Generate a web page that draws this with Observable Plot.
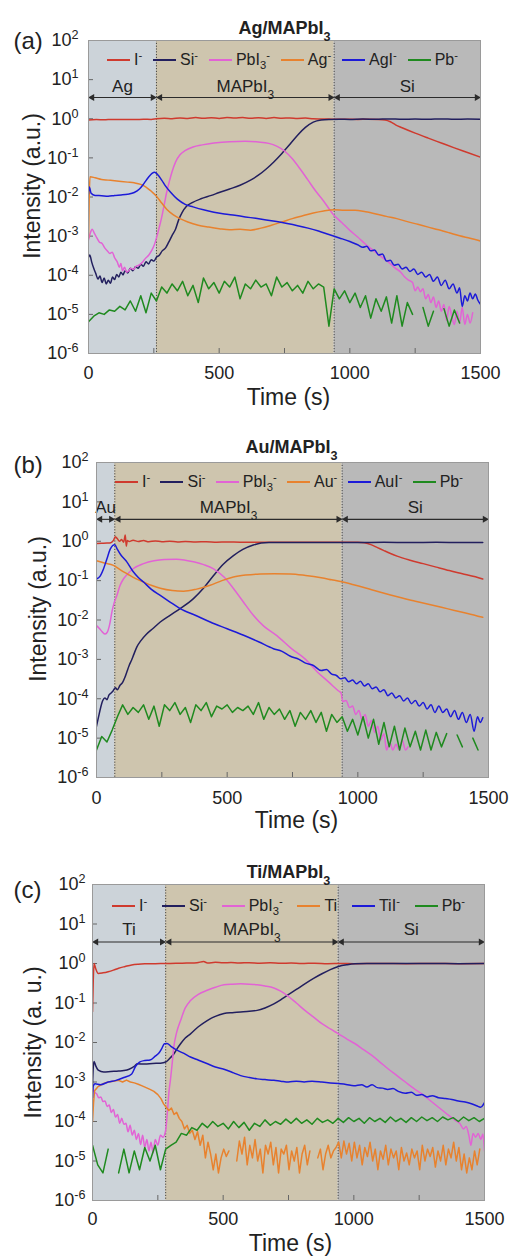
<!DOCTYPE html>
<html><head><meta charset="utf-8">
<script src="https://cdn.jsdelivr.net/npm/d3@7"></script>
<script src="https://cdn.jsdelivr.net/npm/@observablehq/plot@0.6"></script>
<style>
body{margin:0;background:#fff;font-family:"Liberation Sans",Arial,sans-serif;}
#wrap{position:relative;width:511px;height:1256px;overflow:hidden;}
.panel{position:absolute;left:0;width:511px;}
.legend{position:absolute;display:flex;justify-content:space-between;align-items:center;font-size:16px;line-height:1;color:#222;height:20px;}
.legend .item{display:flex;align-items:center;white-space:nowrap;}
.legend .sw{display:inline-block;width:23px;height:0;border-top:2px solid;margin-right:4px;}
.legend sup,.legend sub{font-size:70%;line-height:0;}
</style></head><body><div id="wrap"></div>
<script>
// ---------- shared ----------
const seriesColors = ["#cf3a2e","#221f5e","#e263d5","#e8822e","#1c1ad8","#1f8a1f"];
const regionFills = ["#ccd3d9","#cec5ae","#b9b9b9"];
const yTicks = [1e-6,1e-5,1e-4,1e-3,1e-2,1e-1,1,10,100];
const xTicks = [0,500,1000,1500];
const xMinor = [250,500,750,1000,1250];
const pbStep = 20;

// ---------- (a) Ag/MAPbI3 ----------
const agBounds = [0,260,940,1500];
const agRegions = ["Ag","MAPbI_{3}","Si"];
const agLabels = ["I^{-}","Si^{-}","PbI_{3}^{-}","Ag^{-}","AgI^{-}","Pb^{-}"];
const agI = [[0,0.93],[30,0.95],[60,0.94],[90,0.96],[120,0.95],[150,0.96],[180,0.95],[210,0.97],[240,0.96],[260,1.0],[290,1.03],[320,1.0],[350,1.05],[380,1.02],[410,1.07],[440,1.03],[470,1.06],[500,1.02],[530,1.08],[560,1.04],[590,1.07],[620,1.03],[650,1.06],[680,1.02],[710,1.07],[740,1.03],[770,1.05],[800,1.02],[830,1.04],[860,1.0],[890,0.99],[920,0.98],[950,0.97],[990,0.97],[1030,0.96],[1070,0.97],[1110,0.96],[1135,0.93],[1155,0.84],[1175,0.7],[1200,0.59],[1250,0.43],[1300,0.32],[1350,0.24],[1400,0.18],[1450,0.137],[1500,0.104]];
const agSi = [[0,2.9e-4],[5,3.3e-4],[12,2.2e-4],[20,1.5e-4],[28,1.1e-4],[36,8e-5],[44,9.5e-5],[52,6.5e-5],[60,8.5e-5],[68,6e-5],[76,7.5e-5],[84,6.2e-5],[92,9e-5],[100,7.8e-5],[108,1.05e-4],[116,9e-5],[124,1.2e-4],[132,1.02e-4],[140,1.3e-4],[150,1.15e-4],[160,1.5e-4],[170,1.3e-4],[180,1.65e-4],[190,1.5e-4],[200,1.9e-4],[210,1.7e-4],[220,2.2e-4],[230,1.95e-4],[240,2.5e-4],[250,2.3e-4],[260,2.9e-4],[270,3.2e-4],[282,4.2e-4],[295,5e-4],[307,7e-4],[320,1.05e-3],[333,1.5e-3],[345,2.6e-3],[358,4e-3],[375,5.8e-3],[397,7.2e-3],[430,9e-3],[470,0.011],[500,0.013],[540,0.016],[580,0.02],[620,0.027],[650,0.036],[680,0.052],[710,0.08],[740,0.13],[770,0.22],[800,0.38],[830,0.6],[860,0.82],[890,0.93],[920,0.96],[960,0.97],[1000,0.96],[1050,0.98],[1100,0.97],[1150,0.99],[1200,0.97],[1250,0.98],[1300,0.97],[1350,0.99],[1400,0.97],[1450,0.98],[1500,0.97]];
const agPbI3 = [[0,8e-4],[7,1.2e-3],[14,1.5e-3],[22,1.2e-3],[32,9e-4],[42,7e-4],[52,6.5e-4],[62,5e-4],[72,4.2e-4],[82,3.6e-4],[91,3.9e-4],[100,2.8e-4],[110,2.2e-4],[118,1.6e-4],[124,2e-4],[130,1.3e-4],[138,1.6e-4],[146,1.2e-4],[154,1.3e-4],[162,1.5e-4],[172,1.4e-4],[182,1.7e-4],[192,1.8e-4],[205,2.1e-4],[218,2.7e-4],[231,3.3e-4],[242,4.3e-4],[252,6e-4],[262,1e-3],[270,1.6e-3],[280,3e-3],[290,6.5e-3],[300,0.014],[310,0.026],[320,0.045],[333,0.078],[350,0.12],[371,0.155],[400,0.19],[435,0.215],[480,0.24],[540,0.26],[600,0.265],[650,0.255],[690,0.235],[720,0.2],[750,0.15],[780,0.095],[810,0.052],[840,0.027],[870,0.014],[900,7.8e-3],[935,3.7e-3],[970,2.2e-3],[1000,1.4e-3],[1030,9.5e-4],[1060,6.2e-4],[1090,4.3e-4],[1120,3e-4],[1150,2.1e-4],[1175,1.5e-4],[1195,1.2e-4],[1210,9e-5],[1225,7.5e-5],[1240,6.5e-5],[1250,4e-5],[1260,5e-5],[1270,3.8e-5],[1280,4.5e-5],[1290,2.5e-5],[1300,3.2e-5],[1310,2e-5],[1320,2.8e-5],[1330,1.5e-5],[1340,2.2e-5],[1350,1.2e-5],[1360,1.8e-5],[1370,7e-6],[1380,1.6e-5],[1390,9e-6],[1400,5.5e-6],[1410,1.2e-5],[1420,6e-6],[1430,1.5e-5],[1440,5.5e-6],[1450,1e-5],[1460,6e-6],[1470,1.1e-5]];
const agAg = [[0,9e-4],[3,0.012],[6,0.033],[25,0.031],[50,0.028],[75,0.027],[100,0.026],[125,0.025],[150,0.024],[175,0.023],[200,0.021],[220,0.018],[240,0.014],[260,0.0105],[280,7e-3],[300,4.8e-3],[325,3.5e-3],[350,2.8e-3],[380,2.3e-3],[420,1.9e-3],[460,1.7e-3],[500,1.55e-3],[540,1.45e-3],[580,1.5e-3],[620,1.42e-3],[660,1.6e-3],[700,1.9e-3],[740,2.3e-3],[780,2.8e-3],[820,3.3e-3],[860,3.9e-3],[900,4.4e-3],[940,4.7e-3],[980,4.6e-3],[1020,4.6e-3],[1060,4.2e-3],[1100,3.7e-3],[1140,3.2e-3],[1180,2.8e-3],[1220,2.35e-3],[1260,2e-3],[1300,1.7e-3],[1340,1.45e-3],[1380,1.22e-3],[1420,1.02e-3],[1460,8.8e-4],[1500,7.5e-4]];
const agAgI = [[0,0.012],[3,0.018],[10,0.0125],[25,0.011],[50,0.0108],[75,0.0105],[100,0.011],[125,0.0113],[150,0.0118],[175,0.013],[195,0.016],[212,0.022],[228,0.031],[243,0.04],[253,0.043],[265,0.037],[280,0.027],[295,0.019],[315,0.013],[340,8.8e-3],[370,6.5e-3],[400,5.6e-3],[440,4.7e-3],[480,4.1e-3],[520,3.7e-3],[560,3.4e-3],[600,3.1e-3],[640,2.85e-3],[680,2.6e-3],[720,2.35e-3],[760,2.1e-3],[800,1.85e-3],[840,1.6e-3],[880,1.35e-3],[920,1.1e-3],[960,9e-4],[1000,7.3e-4],[1030,6e-4],[1050,5.2e-4],[1065,5.5e-4],[1080,4.2e-4],[1095,4.4e-4],[1110,3.3e-4],[1125,3.5e-4],[1140,2.3e-4],[1155,2.4e-4],[1170,1.8e-4],[1185,1.9e-4],[1200,1.45e-4],[1215,1.6e-4],[1230,1.25e-4],[1245,1.45e-4],[1260,1.05e-4],[1275,1.2e-4],[1290,9e-5],[1305,1.05e-4],[1320,7e-5],[1335,9e-5],[1350,5.5e-5],[1365,7.5e-5],[1380,4.5e-5],[1395,6e-5],[1410,3.5e-5],[1420,4.8e-5],[1430,1.6e-5],[1440,3e-5],[1450,2.2e-5],[1460,3.5e-5],[1470,2.5e-5],[1480,3.3e-5],[1490,2.3e-5],[1500,1.8e-5]];
const agPb = [6.5e-6,9e-6,1.1e-5,1.0e-5,1.3e-5,1.2e-5,1.6e-5,1.3e-5,2.2e-5,1.2e-5,
 3e-5,1.1e-5,3.5e-5,2.2e-5,5e-5,3.5e-5,6e-5,4e-5,7e-5,3e-5,
 5.5e-5,2e-5,8.5e-5,4.5e-5,6.5e-5,3.5e-5,7e-5,5e-5,9e-5,2.5e-5,
 6e-5,4.5e-5,7.5e-5,5e-5,6e-5,3e-5,9e-5,5e-5,6.5e-5,4e-5,
 5.5e-5,3.5e-5,7e-5,4.5e-5,6e-5,5e-5,5e-6,4.5e-5,2.5e-5,4e-5,
 2e-5,3.5e-5,1.5e-5,3e-5,8e-6,2.5e-5,1.2e-5,2.8e-5,6e-6,3e-5,
 5e-6,2e-5,1e-5,null,1.5e-5,5e-6,1.2e-5,null,1.4e-5,5e-6,
 1.3e-5,6e-6,null,null,null,null];

// ---------- (b) Au/MAPbI3 ----------
const auBounds = [0,70,940,1500];
const auRegions = ["Au","MAPbI_{3}","Si"];
const auLabels = ["I^{-}","Si^{-}","PbI_{3}^{-}","Au^{-}","AuI^{-}","Pb^{-}"];
const auI = [[0,0.88],[20,0.89],[40,0.9],[55,0.92],[65,1.05],[72,1.3],[80,1.15],[88,1.0],[96,1.1],[104,0.95],[110,1.45],[114,0.75],[118,1.05],[125,0.98],[140,1.06],[160,0.98],[180,1.04],[200,0.97],[225,1.02],[250,0.97],[280,1.0],[310,0.96],[340,0.99],[380,0.96],[420,0.97],[460,0.95],[500,0.96],[550,0.95],[600,0.95],[650,0.94],[700,0.94],[800,0.94],[900,0.94],[1000,0.94],[1025,0.91],[1050,0.82],[1075,0.69],[1100,0.58],[1125,0.49],[1150,0.42],[1200,0.33],[1250,0.27],[1300,0.22],[1350,0.18],[1400,0.15],[1450,0.125],[1478,0.11]];
const auSi = [[0,2e-5],[8,3.5e-5],[16,6e-5],[24,9e-5],[32,1.05e-4],[40,9.5e-5],[48,1.25e-4],[56,1.4e-4],[64,1.6e-4],[72,1.9e-4],[80,1.7e-4],[90,2.2e-4],[100,2.6e-4],[108,3.4e-4],[116,4.8e-4],[125,7e-4],[134,9.5e-4],[142,1.3e-3],[155,2.1e-3],[170,3e-3],[190,4.3e-3],[215,6e-3],[244,8.9e-3],[280,0.013],[320,0.0195],[371,0.035],[410,0.065],[448,0.135],[485,0.26],[524,0.43],[560,0.62],[600,0.8],[630,0.9],[660,0.93],[700,0.93],[800,0.93],[900,0.935],[1000,0.93],[1100,0.94],[1200,0.93],[1300,0.94],[1400,0.93],[1478,0.93]];
const auPbI3 = [[0,7.2e-3],[12,6e-3],[22,5e-3],[33,4.4e-3],[42,5e-3],[50,7.5e-3],[59,0.016],[68,0.028],[78,0.042],[90,0.075],[103,0.11],[116,0.14],[140,0.2],[180,0.27],[220,0.32],[260,0.345],[307,0.35],[340,0.33],[371,0.3],[410,0.255],[448,0.2],[490,0.12],[524,0.063],[560,0.03],[601,0.013],[640,7e-3],[690,4e-3],[745,1.9e-3],[800,1e-3],[845,4.8e-4],[890,2.6e-4],[925,1.6e-4],[936,1.4e-4],[942,8.5e-5],[955,9e-5],[968,6e-5],[980,6.5e-5],[992,4e-5],[1004,5e-5],[1016,3e-5],[1028,4e-5],[1040,2e-5],[1052,2.8e-5],[1064,1.4e-5],[1076,2e-5],[1088,9e-6],[1100,1.3e-5],[1110,5e-6],[1122,8e-6],[1134,5e-6],[1146,7e-6],[1158,5e-6],[1170,9e-6],[1182,5e-6],[1192,6e-6]];
const auAu = [[0,0.32],[30,0.28],[65,0.245],[90,0.19],[120,0.145],[150,0.112],[180,0.092],[212,0.075],[244,0.064],[290,0.056],[333,0.054],[380,0.06],[435,0.076],[480,0.1],[524,0.123],[570,0.138],[627,0.148],[680,0.15],[742,0.148],[800,0.135],[860,0.118],[900,0.105],[934,0.095],[980,0.08],[1030,0.065],[1080,0.052],[1125,0.043],[1170,0.036],[1220,0.03],[1270,0.025],[1320,0.021],[1370,0.0175],[1420,0.0147],[1478,0.0117]];
const auAuI = [[0,0.11],[14,0.13],[27,0.2],[40,0.36],[52,0.62],[62,0.78],[70,0.82],[80,0.62],[92,0.46],[104,0.37],[116,0.3],[140,0.17],[160,0.12],[180,0.092],[210,0.06],[244,0.042],[280,0.029],[320,0.0195],[380,0.013],[435,8.9e-3],[500,6e-3],[563,4.1e-3],[620,2.8e-3],[677,1.87e-3],[710,1.6e-3],[742,1.2e-3],[775,1e-3],[800,8e-4],[830,7e-4],[860,5.2e-4],[880,5.5e-4],[900,4.2e-4],[918,3.9e-4],[934,3.2e-4],[950,3.4e-4],[965,2.7e-4],[980,3e-4],[995,2.4e-4],[1010,2.8e-4],[1025,2.1e-4],[1040,2.4e-4],[1055,1.8e-4],[1070,2e-4],[1085,1.5e-4],[1100,1.7e-4],[1115,1.2e-4],[1130,1.4e-4],[1145,1.05e-4],[1160,1.2e-4],[1175,8.8e-5],[1190,1.05e-4],[1205,7.5e-5],[1220,9e-5],[1235,6.5e-5],[1250,8e-5],[1265,5.5e-5],[1280,7e-5],[1295,4.5e-5],[1310,6.5e-5],[1325,4.5e-5],[1340,5.5e-5],[1355,3.5e-5],[1370,5e-5],[1385,3e-5],[1400,4.5e-5],[1415,2.5e-5],[1430,4e-5],[1445,1.5e-5],[1458,3.5e-5],[1468,2.5e-5],[1478,3.3e-5]];
const auPb = [5e-6,1.1e-5,8e-6,1.6e-5,3.5e-5,7e-5,4e-5,6e-5,4.5e-5,7e-5,
 3e-5,6.5e-5,2e-5,7e-5,5e-5,8e-5,4e-5,6e-5,2.5e-5,7e-5,
 5e-5,8e-5,3.5e-5,6.5e-5,5.5e-5,7e-5,4.5e-5,6e-5,5e-5,6.5e-5,
 4e-5,8e-5,3e-5,6e-5,4e-5,5.5e-5,3e-5,5e-5,2e-5,4.5e-5,
 3e-5,5e-5,2.5e-5,4.5e-5,1.5e-5,4e-5,2.5e-5,3.5e-5,1.5e-5,3e-5,
 1.2e-5,3.5e-5,1e-5,3e-5,7e-6,2.5e-5,6e-6,2e-5,5e-6,1.8e-5,
 6e-6,1.5e-5,5e-6,1.6e-5,5e-6,1.4e-5,6e-6,1.3e-5,null,1.2e-5,
 6e-6,null,1e-5,5e-6,null,null];

// ---------- (c) Ti/MAPbI3 ----------
const tiBounds = [0,280,940,1500];
const tiRegions = ["Ti","MAPbI_{3}","Si"];
const tiLabels = ["I^{-}","Si^{-}","PbI_{3}^{-}","Ti","TiI^{-}","Pb^{-}"];
const tiI = [[0,0.06],[3,0.4],[6,1.0],[12,0.75],[22,0.56],[40,0.58],[60,0.62],[80,0.68],[100,0.76],[125,0.84],[150,0.92],[175,0.96],[200,0.98],[240,0.99],[280,1.0],[320,1.01],[360,1.03],[400,1.05],[425,1.12],[440,1.03],[470,1.07],[500,1.04],[530,1.06],[560,1.03],[600,1.05],[640,1.02],[680,1.04],[720,1.01],[760,1.03],[800,1.0],[850,1.02],[900,0.99],[950,1.0],[1000,0.99],[1100,1.0],[1200,0.99],[1300,1.0],[1400,0.99],[1500,1.0]];
const tiSi = [[0,8e-4],[3,2.4e-3],[6,3.3e-3],[12,2.6e-3],[22,2e-3],[43,1.8e-3],[70,1.85e-3],[100,1.9e-3],[120,1.95e-3],[140,2.1e-3],[160,2.5e-3],[171,2.9e-3],[200,2.85e-3],[230,2.95e-3],[260,3e-3],[280,3.2e-3],[296,4e-3],[311,5.1e-3],[324,7e-3],[337,9.3e-3],[355,0.013],[375,0.0166],[405,0.025],[439,0.036],[470,0.046],[503,0.054],[535,0.057],[567,0.059],[600,0.062],[630,0.065],[660,0.075],[694,0.095],[720,0.12],[745,0.155],[780,0.22],[814,0.31],[846,0.42],[878,0.55],[910,0.7],[941,0.84],[975,0.93],[1005,0.98],[1050,1.0],[1100,1.0],[1200,1.0],[1300,1.0],[1400,0.99],[1500,1.0]];
const tiPbI3 = [[0,7e-4],[8,5.5e-4],[16,5e-4],[24,4e-4],[32,4.2e-4],[40,3.2e-4],[48,3.3e-4],[56,2.4e-4],[64,2.6e-4],[72,1.7e-4],[80,2e-4],[88,1.3e-4],[96,1.5e-4],[104,9e-5],[112,1.2e-4],[120,8.5e-5],[128,9e-5],[136,5.5e-5],[144,8e-5],[152,4.5e-5],[160,6e-5],[168,3.5e-5],[176,5e-5],[184,2.6e-5],[192,4.5e-5],[200,2.2e-5],[208,3.5e-5],[216,1.8e-5],[224,3e-5],[232,1.6e-5],[240,3.5e-5],[250,2.5e-5],[260,4.5e-5],[270,4e-5],[280,6e-5],[287,1.9e-4],[293,6e-4],[298,1.1e-3],[305,3e-3],[311,7.6e-3],[322,0.018],[337,0.036],[355,0.075],[375,0.115],[405,0.165],[439,0.21],[470,0.25],[503,0.29],[535,0.3],[567,0.305],[600,0.3],[630,0.29],[660,0.27],[694,0.24],[720,0.2],[745,0.155],[780,0.1],[814,0.064],[846,0.044],[878,0.03],[910,0.022],[941,0.0166],[975,0.012],[1005,9.3e-3],[1037,6.6e-3],[1069,4.7e-3],[1100,3.2e-3],[1133,2.1e-3],[1165,1.45e-3],[1197,1e-3],[1228,7e-4],[1260,5e-4],[1292,3.4e-4],[1324,2.3e-4],[1356,1.55e-4],[1388,1.07e-4],[1405,9e-5],[1420,6.5e-5],[1430,7.5e-5],[1440,4.5e-5],[1448,2.5e-5],[1456,5e-5],[1466,4e-5],[1476,5e-5],[1486,3.5e-5],[1494,4.8e-5],[1500,1.8e-5]];
const tiTi = [[0,1e-4],[4,3e-4],[8,6e-4],[20,7.5e-4],[40,9e-4],[60,1e-3],[80,1.05e-3],[100,1.1e-3],[115,1.0e-3],[130,1.12e-3],[145,1.0e-3],[160,9.5e-4],[175,8.8e-4],[190,8e-4],[205,7.2e-4],[220,6.5e-4],[235,5.8e-4],[250,4.8e-4],[262,3.8e-4],[272,2.8e-4],[282,2.3e-4],[292,1.9e-4],[302,2.2e-4],[312,1.5e-4],[322,1.7e-4],[332,1.2e-4],[342,1e-4],[352,6.5e-5],[362,8e-5],[372,5e-5],[382,6e-5],[392,3.5e-5],[402,5.5e-5],[412,2.5e-5],[422,4.5e-5],[432,1.2e-5],[442,3e-5],[452,1.5e-5],[462,6e-6],[472,1.5e-5],[482,5e-6],[492,1.2e-5],[502,2e-5],[512,1.3e-5],[522,1.8e-5],[532,null],[552,1e-5],[562,3.2e-5],[572,1.5e-5],[582,4e-5],[592,8e-6],[602,2.5e-5],[612,1.2e-5],[622,3.5e-5],[632,1e-5],[642,2e-5],[652,5e-6],[662,2.5e-5],[672,1.5e-5],[682,3e-5],[692,8e-6],[702,2.2e-5],[712,5e-6],[722,2e-5],[732,1.5e-5],[742,2.5e-5],[752,6e-6],[762,1.8e-5],[772,1e-5],[782,2.2e-5],[792,5e-6],[802,1.5e-5],[812,2.5e-5],[822,8e-6],[832,1.8e-5],[842,null],[862,1.2e-5],[872,2e-5],[882,6e-6],[892,1.5e-5],[902,2.5e-5],[912,1.2e-5],[922,1.8e-5],[932,2.2e-5],[942,3e-5],[952,1.2e-5],[962,3.2e-5],[972,1.5e-5],[982,2.8e-5],[992,1e-5],[1002,3e-5],[1012,1.2e-5],[1022,2.5e-5],[1032,8e-6],[1042,2.2e-5],[1052,1.3e-5],[1062,3e-5],[1072,1e-5],[1082,2e-5],[1092,6e-6],[1102,1.8e-5],[1112,1.1e-5],[1122,2.5e-5],[1132,8e-6],[1142,2e-5],[1152,1.2e-5],[1162,1.8e-5],[1172,6e-6],[1182,2.2e-5],[1192,1e-5],[1202,1.6e-5],[1212,8e-6],[1222,2e-5],[1232,1.2e-5],[1242,1.8e-5],[1252,6e-6],[1262,2.5e-5],[1272,1e-5],[1282,2e-5],[1292,1.3e-5],[1302,2.2e-5],[1312,7e-6],[1322,1.8e-5],[1332,1e-5],[1342,2.5e-5],[1352,8e-6],[1362,2e-5],[1372,1.2e-5],[1382,3e-5],[1392,1e-5],[1402,2.2e-5],[1412,6e-6],[1422,1.5e-5],[1432,5e-6],[1442,1.2e-5],[1452,6e-6],[1462,1.8e-5],[1472,8e-6],[1482,2e-5]];
const tiTiI = [[0,4e-4],[3,8e-4],[10,9e-4],[30,8.5e-4],[60,1e-3],[90,1.1e-3],[120,1.3e-3],[150,1.6e-3],[165,2.5e-3],[180,3.2e-3],[200,3.5e-3],[220,3.6e-3],[240,4.5e-3],[255,5.5e-3],[265,7e-3],[275,9.3e-3],[285,9.5e-3],[300,8e-3],[325,6.3e-3],[350,5.3e-3],[375,4.3e-3],[400,3.7e-3],[440,2.9e-3],[470,2.4e-3],[503,2.1e-3],[540,1.7e-3],[567,1.45e-3],[600,1.3e-3],[630,1.2e-3],[660,1.15e-3],[694,1.1e-3],[720,1.05e-3],[750,1.0e-3],[780,1.05e-3],[810,1.0e-3],[840,1.05e-3],[878,1.0e-3],[910,9.5e-4],[941,9.1e-4],[970,8.7e-4],[1000,8e-4],[1030,8.5e-4],[1050,7.5e-4],[1070,8.5e-4],[1090,7.2e-4],[1110,7e-4],[1130,6.5e-4],[1150,6.8e-4],[1170,5.8e-4],[1197,5.2e-4],[1220,5.5e-4],[1240,4.6e-4],[1260,4.8e-4],[1280,4.2e-4],[1300,4.5e-4],[1324,4e-4],[1350,3.8e-4],[1375,3.6e-4],[1400,3.3e-4],[1426,3.1e-4],[1450,2.8e-4],[1470,2.5e-4],[1485,2.3e-4],[1500,3e-4]];
const tiPb = [2.5e-5,8e-6,5e-6,2e-5,null,5e-6,2e-5,5e-6,1.8e-5,6e-6,
 2.2e-5,1e-5,2.5e-5,6e-6,2e-5,2.5e-5,3e-5,5e-5,4.5e-5,7e-5,
 6e-5,9e-5,7e-5,1e-4,7.5e-5,9e-5,6.5e-5,1e-4,7e-5,9.5e-5,
 6e-5,9e-5,7.5e-5,1.1e-4,8e-5,1e-4,8.5e-5,1.15e-4,9e-5,1.2e-4,
 9e-5,1.1e-4,8.5e-5,1.2e-4,9.5e-5,1.1e-4,9e-5,1.2e-4,9.5e-5,1.25e-4,
 1e-4,1.2e-4,9e-5,1.25e-4,1e-4,1.2e-4,9.5e-5,1.3e-4,1e-4,1.2e-4,
 9.5e-5,1.25e-4,1e-4,1.3e-4,1.05e-4,1.25e-4,1e-4,1.3e-4,1.1e-4,1.25e-4,
 1e-4,1.3e-4,1.05e-4,1.25e-4,1e-4,1.2e-4];

// ---------- helpers ----------
const grid = vals => vals.map((v, i) => [i * pbStep, v]);
// which series are noisy traces (drawn with straight segments)
const noisy = [false,false,false,false,false,true];
const noisyTi = [false,false,false,true,false,true];

function richSvg(svg){
  svg.querySelectorAll("text").forEach(t => {
    const targets = t.querySelectorAll("tspan").length ? [...t.querySelectorAll("tspan")] : [t];
    targets.forEach(el => {
      const s = el.textContent;
      if (!/[_^]\{/.test(s)) return;
      el.textContent = "";
      const re = /([_^])\{([^}]*)\}/g; let last = 0, m;
      const add = (txt, kind) => {
        const sp = document.createElementNS("http://www.w3.org/2000/svg","tspan");
        sp.textContent = txt;
        if (kind) { sp.setAttribute("font-size","70%"); sp.setAttribute("baseline-shift", kind === "^" ? "super" : "sub"); }
        el.appendChild(sp);
      };
      while ((m = re.exec(s))) {
        if (m.index > last) add(s.slice(last, m.index));
        add(m[2], m[1]);
        last = re.lastIndex;
      }
      if (last < s.length) add(s.slice(last));
    });
  });
}
const richHtml = s => s.replace(/_\{([^}]*)\}/g, "<sub>$1</sub>").replace(/\^\{([^}]*)\}/g, "<sup>$1</sup>");

const panels = [
  {top:0, height:418, margin:{top:40,right:31,bottom:65,left:88}, title:"Ag/MAPbI_{3}", tag:"(a)", ylabel:"Intensity (a.u.)",
   bounds:agBounds, regions:agRegions, labels:agLabels, series:[agI,agSi,agPbI3,agAg,agAgI,grid(agPb)], noisy:noisy,
   arrowY:3.5, regionLabelY:6.8, titleDy:-12, titleDx:0, tagDy:1, ylabX:32, ylabDy:-11, xlabDx:4, xlabDy:44, yPad:10, xPad:13,
   legend:{left:107,right:458,y:60}},
  {top:418, height:418, margin:{top:44,right:23,bottom:59,left:96}, title:"Au/MAPbI_{3}", tag:"(b)", ylabel:"Intensity (a.u.)",
   bounds:auBounds, regions:auRegions, labels:auLabels, series:[auI,auSi,auPbI3,auAu,auAuI,grid(auPb)], noisy:noisy,
   arrowY:3.6, regionLabelY:7.2, titleDy:-15, titleDx:-1, tagDy:3, ylabX:38, ylabDy:-11, xlabDx:4, xlabDy:43, yPad:8, xPad:14,
   legend:{left:115,right:463,y:482}},
  {top:837, height:419, margin:{top:47,right:27,bottom:56,left:92}, title:"Ti/MAPbI_{3}", tag:"(c)", ylabel:"Intensity (a. u.)",
   bounds:tiBounds, regions:tiRegions, labels:tiLabels, series:[tiI,tiSi,tiPbI3,tiTi,tiTiI,grid(tiPb)], noisy:noisyTi,
   arrowY:3.5, regionLabelY:7.1, titleDy:-12, titleDx:0, tagDy:6, ylabX:33, ylabDy:0, xlabDx:2, xlabDy:43, yPad:7, xPad:12,
   legend:{left:112,right:465,y:906}}
];

const wrap = document.getElementById("wrap");
panels.forEach(cfg => {
  const m = cfg.margin;
  const fw = 511 - m.left - m.right, fh = cfg.height - m.top - m.bottom;
  const regs = cfg.regions.map((name, i) => ({name, x1: cfg.bounds[i], x2: cfg.bounds[i+1], fill: regionFills[i]}));
  const lines = cfg.series.map((data, i) => Plot.line(data, {x: d => d[0], y: d => d[1], stroke: seriesColors[i], strokeWidth: 1.5, curve: cfg.noisy[i] ? "linear" : "monotone-x", clip: true}));
  const svg = Plot.plot({
    width: 511, height: cfg.height,
    marginTop: m.top, marginRight: m.right, marginBottom: m.bottom, marginLeft: m.left,
    style: {fontFamily: "'Liberation Sans', Arial, sans-serif", fontSize: "16px", color: "#222", background: "transparent", overflow: "visible"},
    x: {domain: [0, 1500]},
    y: {type: "log", domain: [1e-6, 1e2]},
    marks: [
      Plot.rect(regs, {x1: "x1", x2: "x2", y1: 1e-6, y2: 1e2, fill: "fill"}),
      Plot.ruleX(cfg.bounds.slice(1, -1), {x: d => d, stroke: "#444", strokeDasharray: "1.2,1.6", strokeWidth: 1}),
      Plot.tickY(yTicks, {y: d => d, insetRight: fw - 5, stroke: "#666"}),
      Plot.tickX(xMinor, {x: d => d, insetTop: fh - 5, stroke: "#666"}),
      Plot.link(regs, {x1: d => d.x1 + 6, x2: d => d.x2 - 6, y1: cfg.arrowY, y2: cfg.arrowY, stroke: "#2b2b2b", strokeWidth: 1.1}),
      Plot.dot(regs, {x: d => d.x1 + 14, y: cfg.arrowY, symbol: "triangle", r: 2.6, rotate: -90, fill: "#2b2b2b"}),
      Plot.dot(regs, {x: d => d.x2 - 14, y: cfg.arrowY, symbol: "triangle", r: 2.6, rotate: 90, fill: "#2b2b2b"}),
      Plot.text(regs, {x: d => (d.x1 + d.x2) / 2, y: cfg.regionLabelY, text: "name", fontSize: 17, fill: "#222", lineAnchor: "middle"}),
      ...lines,
      Plot.frame({stroke: "#9a9a9a"}),
      Plot.axisY({ticks: yTicks, tickFormat: d => "10^{" + Math.round(Math.log10(d)) + "}", tickSize: 0, tickPadding: cfg.yPad, fontSize: 18, label: null}),
      Plot.axisX({ticks: xTicks, tickFormat: d => String(d), tickSize: 0, tickPadding: cfg.xPad, fontSize: 18, label: null}),
      Plot.text([cfg.title], {text: d => d, frameAnchor: "top", dx: cfg.titleDx, dy: cfg.titleDy, fontSize: 18, fontWeight: "bold", lineAnchor: "middle"}),
      Plot.text([cfg.tag], {text: d => d, frameAnchor: "top-left", textAnchor: "start", dx: 13 - m.left, dy: cfg.tagDy, fontSize: 24, lineAnchor: "middle"}),
      Plot.text([cfg.ylabel], {text: d => d, frameAnchor: "left", textAnchor: "middle", rotate: -90, dx: cfg.ylabX - m.left, dy: cfg.ylabDy, fontSize: 23, lineAnchor: "middle"}),
      Plot.text(["Time (s)"], {text: d => d, frameAnchor: "bottom", dx: cfg.xlabDx, dy: cfg.xlabDy, fontSize: 23, lineAnchor: "middle"})
    ]
  });
  richSvg(svg);
  const div = document.createElement("div");
  div.className = "panel";
  div.style.top = cfg.top + "px";
  div.style.height = cfg.height + "px";
  div.appendChild(svg);
  const lg = document.createElement("div");
  lg.className = "legend";
  lg.style.left = cfg.legend.left + "px";
  lg.style.width = (cfg.legend.right - cfg.legend.left) + "px";
  lg.style.top = (cfg.legend.y - cfg.top - 10) + "px";
  lg.innerHTML = cfg.labels.map((l, i) => `<span class="item"><span class="sw" style="border-color:${seriesColors[i]}"></span><span>${richHtml(l)}</span></span>`).join("");
  div.appendChild(lg);
  wrap.appendChild(div);
});
</script></body></html>
